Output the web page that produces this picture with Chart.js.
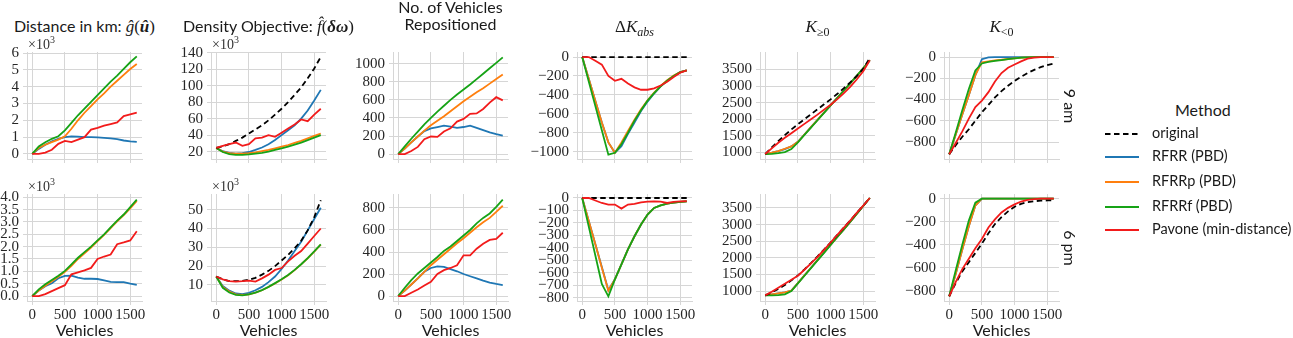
<!DOCTYPE html>
<html lang="en">
<head>
<meta charset="UTF-8">
<title>Repositioning results, 9 am / 6 pm</title>
<script src="https://cdn.jsdelivr.net/npm/chart.js"></script>
<style>
    body { margin: 0; width: 1293px; height: 338px; overflow: hidden; background: #fff; position: relative; font-family: Lato, sans-serif; color: #1a1a1a; }
    canvas { position: absolute; }
    .ttl { position: absolute; width: 220px; text-align: center; font-size: 16px; line-height: 17px; white-space: nowrap; }
    .m { font-family: "Liberation Serif", serif; font-size: 17px; }
    .m sub { font-size: 12px; vertical-align: -4px; line-height: 0; }
    .off { position: absolute; font-family: "Liberation Serif", serif; font-size: 14px; line-height: 14px; color: #333; }
    .off sup { font-size: 10px; line-height: 0; vertical-align: 6px; }
    .row { position: absolute; font-size: 16px; transform: rotate(90deg); transform-origin: center; width: 60px; text-align: center; line-height: 18px; }
    .leg { position: absolute; font-size: 14.5px; line-height: 18px; white-space: nowrap; }
    .legt { position: absolute; font-size: 16px; line-height: 18px; }
</style>
</head>
<body>
<script>
    // x values shared by every panel
    const vehicles = [0, 100, 200, 300, 400, 500, 600, 700, 800, 900, 1000, 1100, 1200, 1300, 1400, 1500, 1600];
    const methods = ['original', 'RFRR (PBD)', 'RFRRp (PBD)', 'RFRRf (PBD)', 'Pavone (min-distance)'];
    const colors = ['#000000', '#1f77b4', '#ff7f0e', '#16a316', '#f21b1b'];

    // tick labels
    const xTicks = [0, 500, 1000, 1500];
    const yt_dist9 = [0, 1, 2, 3, 4, 5, 6];
    const yt_dens9 = [20, 40, 60, 80, 100, 120, 140];
    const yt_rep9 = [0, 200, 400, 600, 800, 1000];
    const yt_dk9 = [-1000, -800, -600, -400, -200, 0];
    const yt_kpos = [1000, 1500, 2000, 2500, 3000, 3500];
    const yt_kneg = [-800, -600, -400, -200, 0];
    const yt_dist6 = [0, 0.5, 1, 1.5, 2, 2.5, 3, 3.5, 4];
    const yt_dens6 = [10, 20, 30, 40, 50];
    const yt_rep6 = [0, 200, 400, 600, 800];
    const yt_dk6 = [-800, -700, -600, -500, -400, -300, -200, -100, 0];

    // ---- 9 am ----
    // distance in km (x10^3)
    const dist9_rfrr   = [0, 0.3, 0.55, 0.75, 0.9, 1.0, 1.05, 1.03, 1.0, 1.0, 0.98, 0.95, 0.92, 0.88, 0.8, 0.75, 0.72];
    const dist9_rfrrp  = [0, 0.35, 0.55, 0.7, 0.85, 1.05, 1.5, 2.0, 2.45, 2.85, 3.25, 3.6, 4.0, 4.35, 4.7, 5.05, 5.35];
    const dist9_rfrrf  = [0, 0.45, 0.7, 0.9, 1.05, 1.4, 1.85, 2.3, 2.7, 3.1, 3.5, 3.9, 4.3, 4.65, 5.05, 5.45, 5.8];
    const dist9_pavone = [0, 0, 0.08, 0.25, 0.6, 0.78, 0.7, 0.85, 1.0, 1.45, 1.55, 1.68, 1.78, 1.88, 2.25, 2.35, 2.45];
    // density objective (x10^3)
    const dens9_orig   = [24.5, 26.5, 29, 33, 37, 42, 47, 52, 58, 65, 72, 80, 89, 98, 109, 121, 135];
    const dens9_rfrr   = [24.5, 20.5, 18.5, 17.5, 18, 19.5, 22, 25, 29, 34, 40, 46, 52, 60, 70, 82, 95];
    const dens9_rfrrp  = [24.5, 20, 18, 17.5, 17.5, 18, 19, 20.5, 22, 24, 26, 28, 30.5, 33, 36, 39, 42];
    const dens9_rfrrf  = [24.5, 19.5, 17, 16, 16, 16.5, 17.5, 18.5, 20, 22, 24, 26, 28.5, 31, 34, 37, 40];
    const dens9_pavone = [24.5, 27, 29, 31, 27, 29, 36, 37, 40, 38, 43, 48, 53, 59, 57, 65, 72];
    // vehicles repositioned
    const rep9_rfrr   = [0, 60, 130, 195, 255, 285, 300, 315, 305, 290, 300, 315, 290, 265, 240, 220, 205];
    const rep9_rfrrp  = [0, 60, 130, 195, 260, 320, 370, 420, 475, 530, 585, 635, 685, 730, 780, 830, 880];
    const rep9_rfrrf  = [0, 85, 170, 250, 330, 400, 470, 535, 600, 660, 715, 770, 830, 890, 950, 1010, 1070];
    const rep9_pavone = [0, 0, 35, 80, 165, 195, 190, 250, 285, 360, 390, 445, 450, 500, 570, 630, 595];
    // delta K abs
    const dk9_orig   = [0, 0, 0, 0, 0, 0, 0, 0, 0, 0, 0, 0, 0, 0, 0, 0, 0];
    const dk9_rfrr   = [0, -230, -460, -690, -900, -1010, -940, -810, -690, -570, -470, -385, -310, -250, -200, -160, -140];
    const dk9_rfrrp  = [0, -230, -460, -690, -900, -1010, -900, -780, -660, -550, -455, -375, -305, -245, -195, -160, -140];
    const dk9_rfrrf  = [0, -257, -515, -772, -1030, -1010, -920, -800, -670, -560, -460, -380, -310, -250, -200, -160, -140];
    const dk9_pavone = [0, 0, -40, -80, -200, -250, -230, -280, -320, -345, -345, -330, -300, -260, -210, -165, -140];
    // K >= 0
    const kp9_orig   = [950, 1150, 1340, 1520, 1690, 1850, 2000, 2150, 2300, 2450, 2600, 2760, 2930, 3110, 3300, 3520, 3850];
    const kp9_rfrr   = [950, 990, 1040, 1100, 1180, 1320, 1540, 1760, 1980, 2200, 2420, 2640, 2860, 3080, 3310, 3540, 3780];
    const kp9_rfrrp  = [950, 990, 1040, 1110, 1180, 1320, 1540, 1760, 1980, 2200, 2420, 2640, 2860, 3080, 3310, 3540, 3780];
    const kp9_rfrrf  = [950, 955, 975, 1010, 1100, 1300, 1530, 1750, 1970, 2190, 2420, 2640, 2860, 3080, 3310, 3540, 3780];
    const kp9_pavone = [950, 1120, 1290, 1440, 1580, 1720, 1860, 2000, 2140, 2290, 2440, 2600, 2780, 2980, 3200, 3450, 3780];
    // K < 0
    const kn9_orig   = [-915, -830, -750, -680, -600, -520, -450, -380, -320, -270, -225, -185, -150, -120, -95, -75, -60];
    const kn9_rfrr   = [-915, -730, -540, -360, -170, -20, -2, 0, 0, 0, 0, 0, 0, 0, 0, 0, 0];
    const kn9_rfrrp  = [-915, -730, -540, -360, -170, -50, -40, -30, -25, -18, -12, -6, -2, 0, 0, 0, 0];
    const kn9_rfrrf  = [-915, -710, -500, -300, -125, -60, -45, -35, -28, -20, -12, -5, -2, 0, 0, 0, 0];
    const kn9_pavone = [-915, -810, -700, -580, -470, -410, -330, -230, -150, -100, -70, -40, -15, -5, 0, 0, 0];

    // ---- 6 pm ----
    const dist6_rfrr   = [0, 0.22, 0.4, 0.52, 0.72, 0.82, 0.83, 0.75, 0.7, 0.7, 0.69, 0.63, 0.57, 0.56, 0.56, 0.5, 0.45];
    const dist6_rfrrp  = [0, 0.22, 0.42, 0.6, 0.78, 0.98, 1.22, 1.5, 1.73, 1.96, 2.22, 2.48, 2.75, 3.02, 3.28, 3.55, 3.85];
    const dist6_rfrrf  = [0, 0.27, 0.48, 0.65, 0.82, 1.02, 1.28, 1.55, 1.78, 2.0, 2.25, 2.5, 2.78, 3.05, 3.3, 3.6, 3.9];
    const dist6_pavone = [0, 0, 0.08, 0.2, 0.32, 0.44, 0.88, 0.96, 1.04, 1.14, 1.5, 1.6, 1.68, 2.1, 2.17, 2.25, 2.62];

    const dens6_orig   = [14.5, 13, 12, 12, 12.2, 12.8, 13.8, 15.5, 17.5, 20, 23, 26, 29.5, 33.5, 39, 46, 55];
    const dens6_rfrr   = [14.5, 9.5, 7, 5.5, 5.2, 5.8, 7.2, 9, 11.5, 14.5, 18.5, 23, 28, 33, 39, 45, 51];
    const dens6_rfrrp  = [14.5, 9, 6.5, 5, 4.7, 5, 5.9, 7.2, 8.9, 10.8, 12.9, 15.2, 17.9, 20.9, 24.2, 27.7, 31.4];
    const dens6_rfrrf  = [14.5, 8.5, 6, 4.8, 4.5, 5, 6, 7.3, 9, 11, 13, 15.3, 18, 21, 24.3, 27.8, 31.5];
    const dens6_pavone = [14.5, 13, 12, 11.8, 12, 12.3, 11.8, 13.5, 15.5, 18, 19, 22.5, 25.5, 28, 32, 36, 40];

    const rep6_rfrr   = [0, 50, 105, 160, 220, 255, 270, 265, 245, 225, 200, 180, 160, 140, 122, 110, 100];
    const rep6_rfrrp  = [0, 50, 105, 160, 220, 280, 330, 380, 430, 480, 525, 575, 625, 670, 710, 765, 820];
    const rep6_rfrrf  = [0, 75, 145, 205, 255, 305, 355, 410, 450, 500, 550, 600, 660, 710, 750, 810, 875];
    const rep6_pavone = [0, 0, 30, 60, 95, 130, 200, 235, 255, 280, 370, 370, 430, 475, 510, 520, 575];

    const dk6_orig   = [0, 0, 0, 0, 0, 0, 0, 0, 0, 0, 0, 0, 0, 0, 0, 0, 0];
    const dk6_rfrr   = [0, -185, -370, -555, -740, -653, -533, -413, -307, -213, -133, -80, -60, -45, -38, -32, -28];
    const dk6_rfrrp  = [0, -185, -370, -560, -745, -653, -533, -413, -307, -213, -133, -80, -60, -45, -38, -32, -28];
    const dk6_rfrrf  = [0, -230, -460, -690, -790, -653, -533, -413, -307, -213, -133, -80, -60, -45, -38, -32, -28];
    const dk6_pavone = [0, 0, -20, -40, -53, -53, -85, -53, -48, -35, -30, -28, -30, -40, -32, -28, -25];

    const kp6_orig   = [870, 960, 1060, 1180, 1320, 1470, 1650, 1840, 2040, 2250, 2460, 2680, 2900, 3120, 3350, 3570, 3800];
    const kp6_rfrr   = [870, 900, 930, 960, 1010, 1240, 1470, 1700, 1930, 2160, 2390, 2620, 2850, 3080, 3320, 3560, 3800];
    const kp6_rfrrp  = [870, 900, 930, 960, 1010, 1240, 1470, 1700, 1930, 2160, 2390, 2620, 2850, 3080, 3320, 3560, 3800];
    const kp6_rfrrf  = [870, 870, 875, 900, 1000, 1230, 1460, 1690, 1920, 2150, 2390, 2620, 2850, 3080, 3320, 3560, 3800];
    const kp6_pavone = [870, 980, 1100, 1220, 1340, 1460, 1640, 1830, 2030, 2240, 2460, 2680, 2900, 3120, 3350, 3570, 3800];

    const kn6_orig   = [-845, -730, -630, -550, -470, -390, -300, -220, -160, -110, -70, -45, -30, -22, -18, -16, -15];
    const kn6_rfrr   = [-845, -650, -440, -240, -60, 0, 0, 0, 0, 0, 0, 0, 0, 0, 0, 0, 0];
    const kn6_rfrrp  = [-845, -650, -440, -240, -60, 0, 0, 0, 0, 0, 0, 0, 0, 0, 0, 0, 0];
    const kn6_rfrrf  = [-845, -620, -400, -190, -35, 0, 0, 0, 0, 0, 0, 0, 0, 0, 0, 0, 0];
    const kn6_pavone = [-845, -720, -610, -520, -430, -350, -250, -180, -120, -80, -50, -25, -10, -5, 0, 0, 0];

    // layout of the grid of axes (pixels)
    const colX = [27, 211, 393, 577, 760, 944];
    const rowY = [52, 194];
    const plotW = 115, plotH = 107;
    const padL = 70, padR = 8, padT = 14;
    const gridColor = '#d6d6d6';
    const serif = "'Liberation Serif', 'Times New Roman', serif";

    const minus = v => (v < 0 ? '\u2212' : '') + Math.abs(v);

    // [row, col, series (method index -> data), yMin, yMax, yTicks, decimals]
    const panels = [
        [0, 0, [null, dist9_rfrr, dist9_rfrrp, dist9_rfrrf, dist9_pavone], -0.3, 6.06, yt_dist9, 0],
        [0, 1, [dens9_orig, dens9_rfrr, dens9_rfrrp, dens9_rfrrf, dens9_pavone], 11, 141, yt_dens9, 0],
        [0, 2, [null, rep9_rfrr, rep9_rfrrp, rep9_rfrrf, rep9_pavone], -54, 1130, yt_rep9, 0],
        [0, 3, [dk9_orig, dk9_rfrr, dk9_rfrrp, dk9_rfrrf, dk9_pavone], -1075, 53, yt_dk9, 0],
        [0, 4, [kp9_orig, kp9_rfrr, kp9_rfrrp, kp9_rfrrf, kp9_pavone], 800, 4030, yt_kpos, 0],
        [0, 5, [kn9_orig, kn9_rfrr, kn9_rfrrp, kn9_rfrrf, kn9_pavone], -960, 48, yt_kneg, 0],
        [1, 0, [null, dist6_rfrr, dist6_rfrrp, dist6_rfrrf, dist6_pavone], -0.2, 4.13, yt_dist6, 1],
        [1, 1, [dens6_orig, dens6_rfrr, dens6_rfrrp, dens6_rfrrf, dens6_pavone], 1.5, 58.3, yt_dens6, 0],
        [1, 2, [null, rep6_rfrr, rep6_rfrrp, rep6_rfrrf, rep6_pavone], -45, 927, yt_rep6, 0],
        [1, 3, [dk6_orig, dk6_rfrr, dk6_rfrrp, dk6_rfrrf, dk6_pavone], -827, 32, yt_dk6, 0],
        [1, 4, [kp6_orig, kp6_rfrr, kp6_rfrrp, kp6_rfrrf, kp6_pavone], 700, 3920, yt_kpos, 0],
        [1, 5, [kn6_orig, kn6_rfrr, kn6_rfrrp, kn6_rfrrf, kn6_pavone], -886, 40, yt_kneg, 0]
    ];

    // red on top, then the dashed original, then green / orange / blue
    const drawOrder = [1, 4, 3, 2, 0];

    panels.forEach(([row, col, series, yMin, yMax, yTicks, dec]) => {
        const bottom = row === 0 ? 14 : 39;
        const cv = document.createElement('canvas');
        cv.width = padL + plotW + padR;
        cv.height = padT + plotH + bottom;
        cv.style.left = (colX[col] - padL) + 'px';
        cv.style.top = (rowY[row] - padT) + 'px';
        document.body.appendChild(cv);

        const datasets = [];
        series.forEach((vals, i) => {
            if (!vals) return;
            datasets.push({
                label: methods[i],
                data: vehicles.map((x, k) => ({ x: x, y: vals[k] })),
                borderColor: colors[i],
                borderWidth: 1.8,
                borderDash: i === 0 ? [5.5, 3.5] : [],
                pointRadius: 0,
                fill: false,
                tension: 0,
                order: drawOrder[i]
            });
        });

        new Chart(cv.getContext('2d'), {
            type: 'line',
            data: { datasets },
            options: {
                responsive: false,
                animation: false,
                devicePixelRatio: 1,
                layout: { padding: { top: padT, right: padR, bottom: 0, left: 0 } },
                plugins: { legend: { display: false }, tooltip: { enabled: false } },
                scales: {
                    x: {
                        type: 'linear',
                        min: -80, max: 1680,
                        afterFit: s => { s.height = bottom; },
                        afterBuildTicks: s => { s.ticks = xTicks.map(v => ({ value: v })); },
                        grid: { color: gridColor, tickLength: 4 },
                        border: { color: gridColor },
                        ticks: {
                            display: row === 1,
                            maxRotation: 0, padding: 1, autoSkip: false,
                            font: { family: serif, size: 15 }, color: '#262626',
                            callback: v => String(v)
                        },
                        title: {
                            display: row === 1, text: 'Vehicles',
                            font: { family: 'Lato', size: 16 }, color: '#1a1a1a',
                            padding: { top: 0, bottom: 0 }
                        }
                    },
                    y: {
                        type: 'linear',
                        min: yMin, max: yMax,
                        afterFit: s => { s.width = padL; },
                        afterBuildTicks: s => { s.ticks = yTicks.map(v => ({ value: v })); },
                        grid: { color: gridColor, tickLength: 4 },
                        border: { color: gridColor },
                        ticks: {
                            autoSkip: false,
                            padding: 4, font: { family: serif, size: 15 }, color: '#262626',
                            callback: v => dec ? v.toFixed(dec) : minus(Math.round(v))
                        }
                    }
                }
            }
        });
    });

    // column titles, offset texts, row labels and legend as plain text
    const colTitles = [
        'Distance in km: <span class="m"><i>ĝ</i>(<b><i>û</i></b>)</span>',
        'Density Objective: <span class="m"><i>f̂</i>(<b><i>δω</i></b>)</span>',
        'No. of Vehicles<br>Repositioned',
        '<span class="m">Δ<i>K</i><sub><i>abs</i></sub></span>',
        '<span class="m"><i>K</i><sub>≥0</sub></span>',
        '<span class="m"><i>K</i><sub>&lt;0</sub></span>'
    ];
    colTitles.forEach((html, i) => {
        const d = document.createElement('div');
        d.className = 'ttl';
        d.innerHTML = html;
        d.style.left = (colX[i] + plotW / 2 - 110) + 'px';
        d.style.top = (i === 2 ? -2 : 17) + 'px';
        document.body.appendChild(d);
    });

    [[0, 0], [0, 1], [1, 0], [1, 1]].forEach(([r, c]) => {
        const d = document.createElement('div');
        d.className = 'off';
        d.innerHTML = '×10<sup>3</sup>';
        d.style.left = (colX[c] + 1) + 'px';
        d.style.top = (rowY[r] - 14) + 'px';
        document.body.appendChild(d);
    });

    [['9 am', 0], ['6 pm', 1]].forEach(([txt, r]) => {
        const d = document.createElement('div');
        d.className = 'row';
        d.textContent = txt;
        d.style.left = (1070 - 30) + 'px';
        d.style.top = (rowY[r] + plotH / 2 - 9) + 'px';
        document.body.appendChild(d);
    });

    const legTitle = document.createElement('div');
    legTitle.className = 'legt';
    legTitle.textContent = 'Method';
    legTitle.style.left = '1175px';
    legTitle.style.top = '101px';
    document.body.appendChild(legTitle);

    const legY = [134, 157, 182, 207, 230];
    methods.forEach((name, i) => {
        const ln = document.createElementNS('http://www.w3.org/2000/svg', 'svg');
        ln.setAttribute('width', '34');
        ln.setAttribute('height', '4');
        ln.style.position = 'absolute';
        ln.style.left = '1105px';
        ln.style.top = (legY[i] - 2) + 'px';
        ln.innerHTML = '<line x1="0" y1="2" x2="34" y2="2" stroke="' + colors[i] + '" stroke-width="1.8"' +
            (i === 0 ? ' stroke-dasharray="5.5 3.5"' : '') + '/>';
        document.body.appendChild(ln);

        const t = document.createElement('div');
        t.className = 'leg';
        t.textContent = name;
        t.style.left = '1152px';
        t.style.top = (legY[i] - 10) + 'px';
        document.body.appendChild(t);
    });
</script>
</body>
</html>
